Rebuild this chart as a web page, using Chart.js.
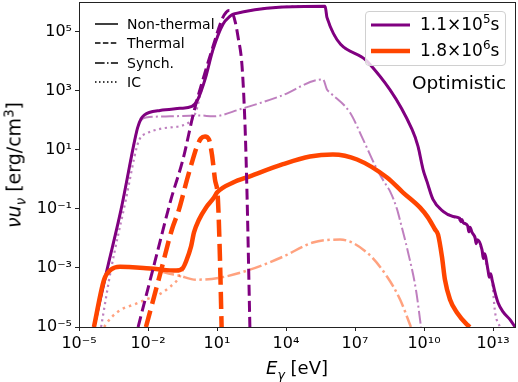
<!DOCTYPE html>
<html>
<head>
<meta charset="utf-8">
<script src="https://cdn.jsdelivr.net/npm/chart.js@4.4.0/dist/chart.umd.min.js"></script>
<style>
    html, body { margin: 0; padding: 0; background: #fff; }
    #wrap { position: relative; width: 518px; height: 382px; font-family: "DejaVu Sans", sans-serif; color: #000; }
    #chart { position: absolute; left: 0; top: 0; }
    .abs { position: absolute; white-space: nowrap; line-height: 1; }
    .abs sub, .abs sup { font-size: 70%; line-height: 0; }
    .row svg { position: absolute; left: 0; top: 0; }
    .legend2 { position: absolute; left: 365px; top: 11px; width: 141px; height: 55px; border: 1px solid #d0d0d0; border-radius: 4px; background: rgba(255,255,255,0.8); box-sizing: border-box; }
</style>
</head>
<body>
<div id="wrap">
    <canvas id="chart" width="518" height="382"></canvas>

    <!-- 線型圖例 -->
    <svg class="abs" style="left:95px; top:0px;" width="24" height="90">
        <line x1="0" y1="24" x2="23" y2="24" stroke="#000" stroke-width="1.5"/>
        <line x1="0" y1="43" x2="23" y2="43" stroke="#000" stroke-width="1.5" stroke-dasharray="5.5 2.4"/>
        <line x1="0" y1="63" x2="23" y2="63" stroke="#000" stroke-width="1.5" stroke-dasharray="9.6 2.4 1.5 2.4"/>
        <line x1="0" y1="82" x2="23" y2="82" stroke="#000" stroke-width="1.5" stroke-dasharray="1.5 2.5"/>
    </svg>
    <div class="abs" style="left:127px; top:17px; font-size:14px;">Non-thermal</div>
    <div class="abs" style="left:127px; top:36px; font-size:14px;">Thermal</div>
    <div class="abs" style="left:127px; top:56px; font-size:14px;">Synch.</div>
    <div class="abs" style="left:127px; top:75px; font-size:14px;">IC</div>

    <!-- 時間圖例 -->
    <div class="legend2"></div>
    <svg class="abs" style="left:371px; top:0px;" width="40" height="60">
        <line x1="0" y1="25" x2="39" y2="25" stroke="#800080" stroke-width="3"/>
        <line x1="0" y1="51" x2="39" y2="51" stroke="#ff4500" stroke-width="4.5"/>
    </svg>
    <div class="abs" style="left:420px; top:16px; font-size:17px;">1.1×10<sup>5</sup>s</div>
    <div class="abs" style="left:420px; top:42px; font-size:17px;">1.8×10<sup>6</sup>s</div>
    <div class="abs" style="left:412px; top:74px; font-size:18.5px;">Optimistic</div>

    <!-- 軸標題 -->
    <div class="abs" style="left:297px; top:368px; font-size:18px; transform:translate(-50%,-50%);"><i>E</i><sub><i>γ</i></sub> [eV]</div>
    <div class="abs" style="left:14px; top:165px; font-size:19px; transform:translate(-50%,-50%) rotate(-90deg);"><i>νu</i><sub><i>ν</i></sub> [erg/cm<sup>3</sup>]</div>
</div>

<script>
// 每點為 [log10 E(eV), log10 νuν(erg/cm³)]
const purpleNonThermal = [
    [-4.35,-5.0],[-3.78,-3.06],[-3.17,-1.02],[-2.57,1.35],[-2.45,1.75],[-2.30,2.05],[-2.15,2.18],[-1.95,2.26],
    [-1.48,2.33],[-0.61,2.40],[-0.09,2.47],[0.17,2.71],[0.48,3.38],[0.83,4.40],[1.26,5.25],[1.57,5.52],[1.70,5.59],
    [5.70,5.86],[5.78,5.48],[7.57,3.96],[9.48,1.69],[9.74,1.11],[9.96,0.33],[10.13,-0.08],[10.39,-0.68],
    [10.83,-1.09],[11.26,-1.26],[11.55,-1.32],[11.60,-1.44],[11.65,-1.36],[11.70,-1.46],[11.90,-1.58],
    [11.95,-1.78],[12.00,-1.62],[12.09,-1.80],[12.22,-1.98],[12.27,-2.18],[12.32,-2.05],[12.52,-2.38],
    [12.58,-2.68],[12.63,-2.52],[12.78,-3.06],[12.84,-3.32],[12.90,-3.20],[12.96,-3.40],[13.09,-3.84],
    [13.22,-4.18],[13.43,-4.48],[13.74,-4.75],[13.96,-5.0]
];
const purpleThermal = [
    [-2.43,-5.0],[-1.70,-2.79],[-1.00,-0.68],[-0.48,0.67],[0.00,2.30],[0.39,3.38],[0.83,4.50],[1.22,5.42],
    [1.40,5.65],[1.52,5.71],[1.65,5.66],[1.80,5.30],[1.91,4.84],[2.09,3.82],[2.22,1.79],[2.30,-0.34],[2.43,-5.0]
];
const purpleSynch = [
    [-4.35,-5.0],[-3.78,-3.06],[-3.17,-1.02],[-2.57,1.35],[-2.45,1.75],[-2.30,2.00],[-2.09,2.09],[-1.04,2.13],
    [0.26,2.16],[0.83,2.13],[2.00,2.37],[3.74,2.81],[5.61,3.38],[5.78,3.04],[5.91,2.94],[6.78,2.26],[7.35,1.35],
    [7.96,0.33],[8.39,-0.24],[8.52,-0.40],[8.83,-1.02],[8.96,-1.40],[9.30,-2.45],[9.65,-3.74],[9.87,-5.0]
];
const purpleIC = [
    [-4.04,-5.0],[-3.61,-3.06],[-2.96,-0.68],[-2.48,1.11],[-2.30,1.45],[-2.17,1.52],[-1.39,1.72],[-0.22,1.92],
    [0.09,2.30],[0.30,2.95],[0.48,3.38],[0.83,4.40],[1.26,5.25],[1.57,5.52],[1.70,5.59],[5.70,5.86],[5.78,5.48],
    [7.57,3.96],[9.48,1.69],[9.74,1.11],[9.96,0.33],[10.13,-0.08],[10.39,-0.68],[10.83,-1.09],[11.26,-1.26],
    [11.70,-1.46],[12.09,-1.80],[12.52,-2.38],[12.78,-3.06],[12.96,-3.45],[13.09,-4.50],[13.30,-5.0]
];
const orangeNonThermal = [
    [-4.35,-5.0],[-3.91,-3.40],[-3.61,-3.06],[-3.22,-2.96],[-2.83,-2.97],[-2.20,-3.00],[-1.65,-3.04],
    [-0.78,-3.09],[-0.48,-3.00],[-0.35,-2.79],[-0.13,-2.28],[0.00,-1.80],[0.22,-1.36],[0.52,-0.96],
    [0.87,-0.62],[1.00,-0.45],[1.70,-0.11],[2.43,0.10],[3.87,0.51],[5.04,0.77],[6.04,0.84],[7.09,0.67],
    [8.39,0.06],[9.09,-0.45],[9.83,-0.96],[10.17,-1.29],[10.48,-1.70],[10.61,-1.87],[10.78,-2.62],
    [10.91,-3.40],[11.13,-4.07],[11.43,-4.51],[11.87,-4.92],[12.00,-5.0]
];
const orangeThermal = [
    [-2.09,-5.0],[-1.48,-3.23],[-0.96,-1.70],[-0.65,-1.02],[-0.30,0.00],[-0.09,0.57],[0.13,1.11],[0.30,1.38],
    [0.48,1.45],[0.65,1.35],[0.78,0.84],[0.91,0.00],[1.04,-0.68],[1.13,-2.72],[1.20,-5.0]
];
const orangeSynch = [
    [-4.35,-5.0],[-3.91,-3.40],[-3.61,-3.06],[-3.22,-2.96],[-2.83,-2.97],[-2.20,-3.00],[-1.65,-3.04],
    [-1.26,-3.16],[-0.65,-3.26],[0.09,-3.40],[1.13,-3.33],[2.43,-3.06],[3.87,-2.62],[5.17,-2.14],[6.35,-2.04],
    [7.52,-2.48],[8.39,-3.29],[8.96,-4.07],[9.43,-5.0]
];
const orangeIC = [
    [-3.91,-5.0],[-3.61,-4.69],[-3.17,-4.41],[-2.61,-4.24],[-2.09,-4.07],[-1.52,-3.90],[-1.09,-3.67],
    [-0.65,-3.33],[-0.52,-3.13],[-0.35,-2.79],[-0.13,-2.28],[0.00,-1.80],[0.22,-1.36],[0.52,-0.96],
    [0.87,-0.62],[1.00,-0.45],[1.70,-0.11],[2.43,0.10],[3.87,0.51],[5.04,0.77],[6.04,0.84],[7.09,0.67],
    [8.39,0.06],[9.09,-0.45],[9.83,-0.96],[10.17,-1.29],[10.48,-1.70],[10.61,-1.87],[10.78,-2.62],
    [10.91,-3.40],[11.13,-4.07],[11.43,-4.51],[11.87,-4.92],[12.00,-5.0]
];

const xTicks = [1e-5, 1e-2, 1e1, 1e4, 1e7, 1e10, 1e13];
const yTicks = [1e-5, 1e-3, 1e-1, 1e1, 1e3, 1e5];

const PURPLE = '#800080';
const PURPLE_LIGHT = 'rgba(128, 0, 128, 0.5)';
const ORANGE = '#ff4500';
const ORANGE_LIGHT = 'rgba(255, 69, 0, 0.5)';

const SUP = { '-': '⁻', '0': '⁰', '1': '¹', '2': '²', '3': '³', '4': '⁴', '5': '⁵', '6': '⁶', '7': '⁷', '8': '⁸', '9': '⁹' };
const powLabel = v => '10' + String(Math.round(Math.log10(v))).split('').map(c => SUP[c]).join('');

const toPoints = arr => arr.map(([lx, ly]) => ({ x: Math.pow(10, lx), y: Math.pow(10, ly) }));

function series(label, data, color, width, dash, order) {
    return {
        label,
        data: toPoints(data),
        borderColor: color,
        borderWidth: width,
        borderDash: dash,
        showLine: true,
        fill: false,
        pointRadius: 0,
        cubicInterpolationMode: 'monotone',
        order
    };
}

// 外框四邊
const framePlugin = {
    id: 'frame',
    afterDraw(chart) {
        const { ctx, chartArea: a } = chart;
        ctx.save();
        ctx.strokeStyle = '#222';
        ctx.lineWidth = 1;
        ctx.strokeRect(Math.round(a.left) + 0.5, Math.round(a.top) + 0.5,
                       Math.round(a.right - a.left) - 1, Math.round(a.bottom - a.top));
        ctx.restore();
    }
};

const tickFont = { family: '"DejaVu Sans", sans-serif', size: 16 };

new Chart(document.getElementById('chart'), {
    type: 'scatter',
    data: {
        datasets: [
            series('purple synch', purpleSynch, PURPLE_LIGHT, 2, [12.8, 3.2, 2, 3.2], 10),
            series('purple IC', purpleIC, PURPLE_LIGHT, 2.2, [2.2, 3.6], 10),
            series('orange synch', orangeSynch, ORANGE_LIGHT, 2.5, [13, 3.5, 2.5, 3.5], 9),
            series('orange IC', orangeIC, ORANGE_LIGHT, 2.5, [2.5, 4.1], 9),
            series('purple non-thermal', purpleNonThermal, PURPLE, 3, [], 6),
            series('orange non-thermal', orangeNonThermal, ORANGE, 4.5, [], 5),
            series('purple thermal', purpleThermal, PURPLE, 3, [11, 5], 4),
            series('orange thermal', orangeThermal, ORANGE, 4.5, [17, 7], 3)
        ]
    },
    options: {
        responsive: false,
        animation: false,
        devicePixelRatio: 1,
        layout: { padding: { top: 2, right: 2, left: 0, bottom: 0 } },
        plugins: { legend: { display: false }, tooltip: { enabled: false } },
        scales: {
            x: {
                type: 'logarithmic',
                min: 1e-5,
                max: 1e14,
                border: { display: false },
                grid: { drawOnChartArea: false, drawTicks: true, tickLength: 4, color: '#222' },
                ticks: {
                    autoSkip: false, maxRotation: 0, padding: 3, color: '#000', font: tickFont,
                    callback: v => powLabel(v)
                },
                afterBuildTicks: s => { s.ticks = xTicks.map(v => ({ value: v })); },
                afterFit: s => { s.height = 55; s.paddingLeft = 0; s.paddingRight = 0; }
            },
            y: {
                type: 'logarithmic',
                min: 1e-5,
                max: 1e6,
                border: { display: false },
                grid: { drawOnChartArea: false, drawTicks: true, tickLength: 4, color: '#222' },
                ticks: {
                    autoSkip: false, padding: 3, color: '#000', font: tickFont,
                    callback: v => powLabel(v)
                },
                afterBuildTicks: s => { s.ticks = yTicks.map(v => ({ value: v })); },
                afterFit: s => { s.width = 79; s.paddingTop = 0; s.paddingBottom = 0; }
            }
        }
    },
    plugins: [framePlugin]
});
</script>
</body>
</html>
